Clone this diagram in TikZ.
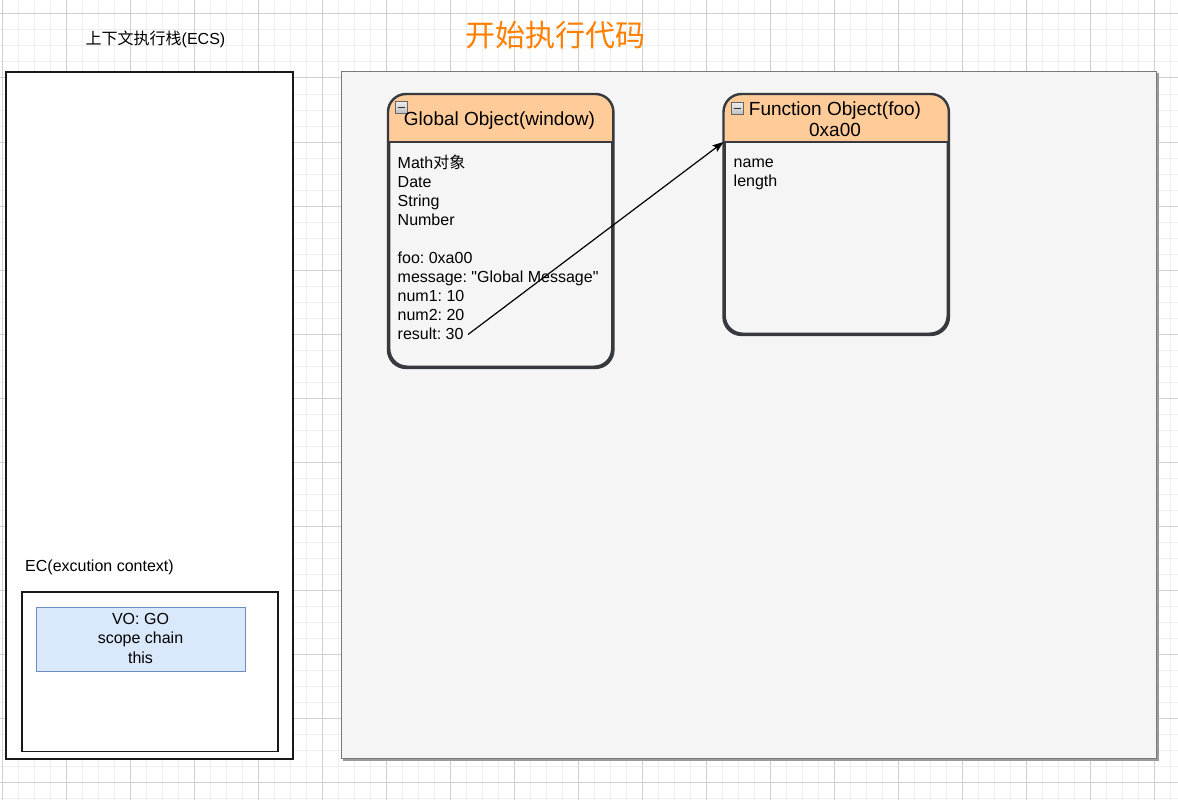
\documentclass[tikz,border=0pt]{standalone}
\usepackage{fontspec}
\newfontfamily\lsans{Liberation Sans}
\newfontfamily\cjk{Noto Sans CJK SC}
\usetikzlibrary{arrows.meta}
\definecolor{gridmaj}{HTML}{D0D0D0}
\definecolor{gridmin}{HTML}{EFEFEF}
\definecolor{panel}{HTML}{F5F5F5}
\definecolor{panelline}{HTML}{7A7A7A}
\definecolor{panelshadow}{HTML}{9A9A9A}
\definecolor{hdr}{HTML}{FFCC99}
\definecolor{objline}{HTML}{36393D}
\definecolor{vofill}{HTML}{DAE8FC}
\definecolor{voline}{HTML}{6C8EBF}
\definecolor{orangetitle}{HTML}{FF8000}
\frenchspacing
\begin{document}
\begin{tikzpicture}[x=1pt,y=-1pt,
  txt/.style={font=\lsans\fontsize{16}{19}\selectfont, inner sep=0pt},
  ttl/.style={font=\lsans\fontsize{19}{21}\selectfont, inner sep=0pt},
  minorline/.style={draw=gridmin, line width=1pt},
  majorline/.style={draw=gridmaj, line width=1pt},
  blackbox/.style={draw=black!90, line width=1.6pt, fill=white, inner sep=0pt, anchor=north west},
  panelbox/.style={draw=panelline, line width=1.2pt, fill=panel, inner sep=0pt, anchor=north west},
  objbox/.style={draw=objline, line width=2.4pt, fill=panel, rounded corners=18pt, inner sep=0pt, anchor=north west},
  objedge/.style={draw=objline, line width=2.4pt},
  vobox/.style={draw=voline, line width=1.2pt, fill=vofill, inner sep=0pt, anchor=north west},
  iconbox/.style={draw=gray!80!black, line width=0.9pt, top color=gray!15, bottom color=gray!50, minimum size=12pt, inner sep=0pt, anchor=north west},
  iconminus/.style={draw=black!80, line width=1.8pt},
  link/.style={draw=black, line width=1.2pt, -{Stealth[length=11pt,width=8pt,inset=2pt]}},
]
\useasboundingbox (0,0) rectangle (1178,800);
\fill[white] (0,0) rectangle (1178,800);
% grid
\foreach \gx in {2,18,...,1170} \draw[minorline] (\gx,0) -- (\gx,800);
\foreach \gy in {14,30,...,798} \draw[minorline] (0,\gy) -- (1178,\gy);
\foreach \gx in {2,66,...,1154} \draw[majorline] (\gx,0) -- (\gx,800);
\foreach \gy in {14,78,...,782} \draw[majorline] (0,\gy) -- (1178,\gy);

% titles
\node[txt, anchor=base] (ecstitle) at (155.5,44.5) {{\cjk 上下文执行栈}(ECS)};
\node[font=\cjk\fontsize{30}{30}\selectfont, text=orangetitle, inner sep=0pt] (runtitle) at (555,35) {开始执行代码};

% left stack
\node[blackbox, minimum width=287pt, minimum height=687pt] (ecs) at (5,71) {};
\node[txt, anchor=base west] (eclabel) at (25,571.7) {EC(excution context)};
\node[blackbox, minimum width=256pt, minimum height=159.5pt] (ec) at (21,591) {};
\node[vobox, minimum width=209pt, minimum height=64pt] (vo) at (36,607) {};
\node[txt, anchor=base] (vo1) at (140.5,624) {VO: GO};
\node[txt, anchor=base] (vo2) at (140.5,643.5) {scope chain};
\node[txt, anchor=base] (vo3) at (140.5,663) {this};

% right panel
\fill[panelshadow] (343,73) rectangle (1158.5,760.5);
\node[panelbox, minimum width=815pt, minimum height=687pt] (heap) at (341,71) {};

% separator coordinate
\coordinate (sep) at (0,142);

% Global Object
\node[objbox, minimum width=223pt, minimum height=271.5pt] (go) at (388,94) {};
\begin{scope}
\clip[rounded corners=18pt] (go.north west) rectangle (go.south east);
\fill[hdr] (go.north west) rectangle (go.east |- sep);
\end{scope}
\draw[objedge, rounded corners=18pt] (go.north west) rectangle (go.south east);
\draw[objedge] (go.west |- sep) -- (go.east |- sep);
\node[iconbox] (goicon) at (395,101) {};
\draw[iconminus] ([xshift=2.5pt]goicon.west) -- ([xshift=-2.5pt]goicon.east);
\node[ttl, anchor=base] (gotitle) at (499.5,125.7) {Global Object(window)};
\foreach \t [count=\i from 0] in {Math{\cjk 对象},Date,String,Number,{},foo: 0xa00,message: "Global Message",num1: 10,num2: 20,result: 30}
  \node[txt, anchor=base west] (gl\i) at (397.5,168+19*\i) {\t};

% Function Object
\node[objbox, minimum width=223pt, minimum height=238.5pt] (fo) at (723.5,94) {};
\begin{scope}
\clip[rounded corners=18pt] (fo.north west) rectangle (fo.south east);
\fill[hdr] (fo.north west) rectangle (fo.east |- sep);
\end{scope}
\draw[objedge, rounded corners=18pt] (fo.north west) rectangle (fo.south east);
\draw[objedge] (fo.west |- sep) -- (fo.east |- sep);
\node[iconbox] (foicon) at (731,102) {};
\draw[iconminus] ([xshift=2.5pt]foicon.west) -- ([xshift=-2.5pt]foicon.east);
\node[ttl, anchor=base] (fotitle1) at (835,115.7) {Function Object(foo)};
\node[ttl, anchor=base] (fotitle2) at (835,136.7) {0xa00};
\node[txt, anchor=base west] (fo1) at (733.5,167.7) {name};
\node[txt, anchor=base west] (fo2) at (733.5,186.7) {length};

% reference arrow
\coordinate (arrstart) at (468,334.5);
\draw[link] (arrstart) -- (fo.west |- sep);
\end{tikzpicture}
\end{document}
